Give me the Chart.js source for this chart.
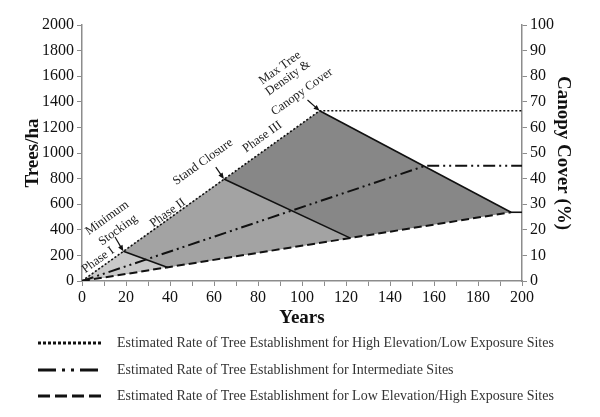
<!DOCTYPE html>
<html>
<head>
<meta charset="utf-8">
<script src="https://cdn.jsdelivr.net/npm/chart.js@4.4.0/dist/chart.umd.min.js"></script>
<style>
  html, body { margin: 0; padding: 0; background: #fff; }
</style>
</head>
<body>
<canvas id="canvas" width="600" height="417"></canvas>
<script>
// tree establishment lines (years -> trees/ha)
const highYears = [0, 108, 200]
const highTrees = [0, 1330, 1330]
const midYears = [0, 156, 200]
const midTrees = [0, 900, 900]
const lowYears = [0, 195]
const lowTrees = [0, 537]
const lowEndYears = [195, 200]
const lowEndTrees = [537, 537]

// phase boundaries
const stockingYears = [18.8, 39]
const stockingTrees = [232, 106]
const closureYears = [64.5, 122]
const closureTrees = [797, 335]
const maxYears = [108, 195]
const maxTrees = [1330, 537]

const legendLabels = [
  'Estimated Rate of Tree Establishment for High Elevation/Low Exposure Sites',
  'Estimated Rate of Tree Establishment for Intermediate Sites',
  'Estimated Rate of Tree Establishment for Low Elevation/High Exposure Sites'
]

const serif = '"Liberation Serif", "Times New Roman", serif'
const axisGray = '#8c8c8c'

function pts(xs, ys) {
  return xs.map(function (x, i) { return { x: x, y: ys[i] } })
}

function lineSet(xs, ys, dash, width) {
  return {
    data: pts(xs, ys),
    showLine: true,
    borderColor: '#111',
    borderWidth: width,
    borderDash: dash,
    pointRadius: 0,
    fill: false,
    order: 0
  }
}

function fillSet(xs, ys, color, order) {
  return {
    data: pts([0].concat(xs), [0].concat(ys)),
    showLine: true,
    borderWidth: 0,
    borderColor: 'rgba(0,0,0,0)',
    backgroundColor: color,
    pointRadius: 0,
    fill: { target: 2 },
    order: order
  }
}

const datasets = [
  lineSet(highYears, highTrees, [2, 2], 1.6),
  lineSet(midYears, midTrees, [12, 4, 2, 4, 2, 4], 2),
  lineSet(lowYears, lowTrees, [8, 4], 2),
  lineSet(lowEndYears, lowEndTrees, [], 1.6),
  lineSet(stockingYears, stockingTrees, [], 1.6),
  lineSet(closureYears, closureTrees, [], 1.6),
  lineSet(maxYears, maxTrees, [], 1.6),
  fillSet(stockingYears, stockingTrees, '#c9c9c9', 1),
  fillSet(closureYears, closureTrees, '#a3a3a3', 2),
  fillSet(maxYears, maxTrees, '#878787', 3)
]

// rotated notes along the high elevation line
const notes = [
  { text: 'Phase I', x: 7.3, y: 164 },
  { text: 'Minimum', x: 11.4, y: 492 },
  { text: 'Stocking', x: 16.4, y: 398 },
  { text: 'Phase II', x: 39, y: 531 },
  { text: 'Stand Closure', x: 55, y: 930 },
  { text: 'Phase III', x: 82, y: 1125 },
  { text: 'Max Tree', x: 90, y: 1664 },
  { text: 'Density &', x: 93.6, y: 1586 },
  { text: 'Canopy Cover', x: 100, y: 1477 }
]
const arrows = [
  { x0: 15, y0: 344, x1: stockingYears[0], y1: stockingTrees[0] },
  { x0: 60.8, y0: 890, x1: closureYears[0], y1: closureTrees[0] },
  { x0: 102.5, y0: 1414, x1: maxYears[0], y1: maxTrees[0] }
]

const extras = {
  id: 'extras',
  afterDatasetsDraw(chart) {
    const ctx = chart.ctx
    const xs = chart.scales.x, ys = chart.scales.y
    const ang = Math.atan2(ys.getPixelForValue(highTrees[1]) - ys.getPixelForValue(0),
      xs.getPixelForValue(highYears[1]) - xs.getPixelForValue(0))
    ctx.save()
    ctx.fillStyle = '#222'
    ctx.font = '12.5px ' + serif
    ctx.textAlign = 'center'
    ctx.textBaseline = 'middle'
    notes.forEach(function (n) {
      ctx.save()
      ctx.translate(xs.getPixelForValue(n.x), ys.getPixelForValue(n.y))
      ctx.rotate(ang)
      ctx.fillText(n.text, 0, 0)
      ctx.restore()
    })
    ctx.strokeStyle = '#111'
    ctx.fillStyle = '#111'
    ctx.lineWidth = 1.2
    arrows.forEach(function (a) {
      const px0 = xs.getPixelForValue(a.x0), py0 = ys.getPixelForValue(a.y0)
      const px1 = xs.getPixelForValue(a.x1), py1 = ys.getPixelForValue(a.y1)
      const t = Math.atan2(py1 - py0, px1 - px0)
      ctx.beginPath()
      ctx.moveTo(px0, py0)
      ctx.lineTo(px1 - 4 * Math.cos(t), py1 - 4 * Math.sin(t))
      ctx.stroke()
      ctx.beginPath()
      ctx.moveTo(px1, py1)
      ctx.lineTo(px1 - 6 * Math.cos(t) + 2.5 * Math.sin(t), py1 - 6 * Math.sin(t) - 2.5 * Math.cos(t))
      ctx.lineTo(px1 - 6 * Math.cos(t) - 2.5 * Math.sin(t), py1 - 6 * Math.sin(t) + 2.5 * Math.cos(t))
      ctx.closePath()
      ctx.fill()
    })

    // legend below the chart
    const dashes = [[3, 2], [18, 6, 3, 6, 3, 6], [12, 5]]
    const rows = [343, 370, 396]
    ctx.lineWidth = 3
    ctx.textAlign = 'left'
    ctx.font = '14px ' + serif
    legendLabels.forEach(function (txt, i) {
      ctx.setLineDash(dashes[i])
      ctx.beginPath()
      ctx.moveTo(38, rows[i])
      ctx.lineTo(101, rows[i])
      ctx.stroke()
      ctx.setLineDash([])
      ctx.fillStyle = '#333'
      ctx.fillText(txt, 117, rows[i])
    })
    ctx.restore()
  }
}

const tickFont = { family: serif, size: 16 }
const titleFont = { family: serif, size: 19, weight: 'bold' }
const plain = function (v) { return String(v) }

const config = {
  type: 'scatter',
  data: { datasets: datasets },
  options: {
    responsive: false,
    animation: false,
    devicePixelRatio: 1,
    layout: { padding: { top: 25, bottom: 86, left: 0, right: 0 } },
    plugins: { legend: { display: false }, tooltip: { enabled: false } },
    scales: {
      x: {
        type: 'linear', position: 'bottom', min: 0, max: 200,
        grid: { drawOnChartArea: false, color: axisGray, tickLength: 5 },
        border: { color: axisGray, width: 1.5 },
        ticks: {
          stepSize: 10, color: '#111', font: tickFont, padding: 2, maxRotation: 0, autoSkip: false,
          callback: function (v) { return v % 20 === 0 ? String(v) : '' }
        },
        title: { display: true, text: 'Years', color: '#111', font: titleFont, padding: { top: 0, bottom: 2 } },
        afterFit: function (s) { s.height = 50 }
      },
      y: {
        position: 'left', min: 0, max: 2000,
        grid: { drawOnChartArea: false, color: axisGray, tickLength: 5 },
        border: { color: axisGray, width: 1.5 },
        ticks: { stepSize: 200, color: '#111', font: tickFont, padding: 3, callback: plain },
        title: { display: true, text: 'Trees/ha', color: '#111', font: titleFont, padding: { top: 22, bottom: 0 } },
        afterFit: function (s) { s.width = 82 }
      },
      y2: {
        position: 'right', min: 0, max: 100,
        grid: { drawOnChartArea: false, color: axisGray, tickLength: 5 },
        border: { color: axisGray, width: 1.5 },
        ticks: { stepSize: 10, color: '#111', font: tickFont, padding: 3, callback: plain },
        title: { display: true, text: 'Canopy Cover (%)', color: '#111', font: titleFont, padding: { top: 26, bottom: 0 } },
        afterFit: function (s) { s.width = 78 }
      }
    }
  },
  plugins: [extras]
}

const canvas = document.getElementById('canvas')
const chart = new Chart(canvas, config)
</script>
</body>
</html>
